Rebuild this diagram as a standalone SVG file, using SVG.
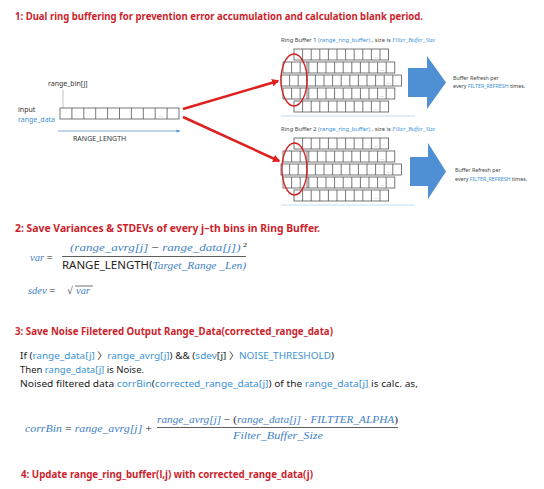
<svg xmlns="http://www.w3.org/2000/svg" xmlns:xlink="http://www.w3.org/1999/xlink" width="544" height="489" viewBox="0 0 544 489">
<style>
.title{font-family:"Noto Sans","Liberation Sans",sans-serif;font-weight:bold;font-size:11px;fill:#cc1f2d}
.body{font-family:"Noto Sans","Liberation Sans","Noto Sans CJK KR",sans-serif;font-size:9.5px;fill:#222}
.small{font-family:"Noto Sans","Liberation Sans",sans-serif;font-size:7px;fill:#333}
.tiny{font-family:"Noto Sans","Liberation Sans",sans-serif;font-size:5.3px;fill:#444}
.b{fill:#3a92d6}
.math{font-family:"Liberation Serif","DejaVu Serif",serif;font-style:italic;font-size:10.5px;fill:#3f82c4}
.up{font-family:"Noto Sans","Liberation Sans",sans-serif;font-style:normal;fill:#222}
.op{font-style:normal;fill:#222}
.cell{fill:#fff;stroke:#555;stroke-width:0.8}
.cl{fill:none;stroke:#555;stroke-width:0.8}
.dots{font-family:"Liberation Sans",sans-serif;font-size:5px;fill:#777}
.sep{stroke:#c4dbf0;stroke-width:1}
.big{fill:#4f90d4}
.red{stroke:#e02020;stroke-width:2.5;fill:none}
</style>
<defs>
<marker id="ra" viewBox="0 0 10 10" refX="8" refY="5" markerWidth="3" markerHeight="3" orient="auto"><path d="M0 0L10 5L0 10z" fill="#e02020"/></marker>
<marker id="ba" viewBox="0 0 10 10" refX="9" refY="5" markerWidth="5" markerHeight="5" orient="auto"><path d="M0 1L10 5L0 9z" fill="#5b9bd5"/></marker>
<g id="rows">
<rect class="cell" x="294" y="49" width="94.6" height="11"/>
<path class="cl" d="M302.6 49v11m8.6-11v11m8.6-11v11m8.6-11v11m8.6-11v11m8.6-11v11m8.6-11v11m8.6-11v11m8.6-11v11m8.6-11v11"/>
<rect class="cell" x="283" y="62" width="111.8" height="11"/>
<path class="cl" d="M291.6 62v11m8.6-11v11m8.6-11v11m8.6-11v11m8.6-11v11m8.6-11v11m8.6-11v11m8.6-11v11m8.6-11v11m8.6-11v11m8.6-11v11m8.6-11v11"/>
<rect class="cell" x="281" y="75" width="120.4" height="11"/>
<path class="cl" d="M289.6 75v11m8.6-11v11m8.6-11v11m8.6-11v11m8.6-11v11m8.6-11v11m8.6-11v11m8.6-11v11m8.6-11v11m8.6-11v11m8.6-11v11m8.6-11v11m8.6-11v11"/>
<rect class="cell" x="283" y="88" width="111.8" height="11"/>
<path class="cl" d="M291.6 88v11m8.6-11v11m8.6-11v11m8.6-11v11m8.6-11v11m8.6-11v11m8.6-11v11m8.6-11v11m8.6-11v11m8.6-11v11m8.6-11v11m8.6-11v11"/>
<rect class="cell" x="294" y="101" width="94.6" height="11"/>
<path class="cl" d="M302.6 101v11m8.6-11v11m8.6-11v11m8.6-11v11m8.6-11v11m8.6-11v11m8.6-11v11m8.6-11v11m8.6-11v11m8.6-11v11"/>
<path class="cl" d="M307 62v37" stroke-width="1.2"/>
<text class="dots" x="375.7" y="58" text-anchor="middle">...</text>
<text class="dots" x="381.9" y="71" text-anchor="middle">...</text>
<text class="dots" x="388.5" y="84" text-anchor="middle">...</text>
<text class="dots" x="381.9" y="97" text-anchor="middle">...</text>
<text class="dots" x="375.7" y="110" text-anchor="middle">...</text>
</g>
</defs>
<rect width="544" height="489" fill="#fff"/>

<text class="title" x="15" y="20" textLength="408" lengthAdjust="spacingAndGlyphs">1: Dual ring buffering for prevention error accumulation and calculation blank period.</text>

<g id="input-array">
<text class="small" x="48" y="86">range_bin[j]</text>
<path d="M63 90V111" stroke="#aaa" stroke-width="0.7"/>
<text class="small" x="18" y="112">input</text>
<text class="small b" x="18" y="122">range_data</text>
<rect class="cell" x="60" y="108" width="119" height="11"/>
<path class="cl" d="M71.9 108v11m11.9-11v11m11.9-11v11m11.9-11v11m11.9-11v11m11.9-11v11m11.9-11v11m11.9-11v11m11.9-11v11"/>
<text class="dots" x="161" y="117" text-anchor="middle">...</text>
<text class="small" x="73" y="141">RANGE_LENGTH</text>
</g>

<g id="ring-buffer-1">
<text class="tiny" x="281" y="42" textLength="154" lengthAdjust="spacingAndGlyphs">Ring Buffer 1 <tspan class="b">(range_ring_buffer)</tspan> , size is <tspan class="b" font-style="italic" font-family="Liberation Serif, serif">Filter_Buffer_Size</tspan></text>
<use xlink:href="#rows"/>
<ellipse cx="294" cy="80" rx="13" ry="26" fill="none" stroke="#d42020" stroke-width="1.3"/>
<line class="sep" x1="281" y1="116" x2="415" y2="116"/>
</g>

<g id="ring-buffer-2">
<text class="tiny" x="281" y="131" textLength="154" lengthAdjust="spacingAndGlyphs">Ring Buffer 2 <tspan class="b">(range_ring_buffer)</tspan> , size is <tspan class="b" font-style="italic" font-family="Liberation Serif, serif">Filter_Buffer_Size</tspan></text>
<use xlink:href="#rows" y="89"/>
<ellipse cx="294.5" cy="169" rx="12.5" ry="26" fill="none" stroke="#d42020" stroke-width="1.3"/>
<line class="sep" x1="281" y1="205" x2="415" y2="205"/>
</g>

<g id="refresh-1">
<polygon class="big" points="408,68 427,68 427,56 446,82.5 427,109 427,97 408,97"/>
<text class="tiny" x="453" y="80">Buffer Refresh per</text>
<text class="tiny" x="453" y="88">every <tspan class="b">FILTER_REFRESH</tspan> times.</text>
</g>

<g id="refresh-2">
<polygon class="big" points="410,157 428,157 428,143 446,171.5 428,199 428,186 410,186"/>
<text class="tiny" x="455" y="172">Buffer Refresh per</text>
<text class="tiny" x="455" y="181">every <tspan class="b">FILTER_REFRESH</tspan> times.</text>
</g>

<g id="connectors">
<line class="red" x1="183" y1="109" x2="278" y2="81" marker-end="url(#ra)"/>
<line class="red" x1="183" y1="117" x2="279" y2="161" marker-end="url(#ra)"/>
<line x1="58" y1="131" x2="180" y2="131" stroke="#5b9bd5" stroke-width="0.8" marker-end="url(#ba)"/>
</g>

<text class="title" x="15" y="232" textLength="305" lengthAdjust="spacingAndGlyphs">2: Save Variances &amp; STDEVs of every j–th bins in Ring Buffer.</text>

<g id="var-formula">
<text class="math" x="30" y="261">var <tspan class="op">=</tspan></text>
<text class="math" x="70" y="251" textLength="177" lengthAdjust="spacingAndGlyphs">(range_avrg[j] <tspan class="op">−</tspan> range_data[j])<tspan class="op" font-size="7" dy="-4"> 2</tspan></text>
<line x1="62" y1="256.5" x2="246" y2="256.5" stroke="#333" stroke-width="0.8"/>
<text class="math" x="62" y="269" textLength="184" lengthAdjust="spacingAndGlyphs"><tspan class="up">RANGE_LENGTH(</tspan>Target_Range _Len)</text>
<text class="math" x="28" y="294">sdev <tspan class="op">=</tspan></text>
<text class="math op" x="67" y="294" font-size="12">√</text>
<line x1="75" y1="286" x2="93" y2="286" stroke="#333" stroke-width="0.7"/>
<text class="math" x="76" y="294">var</text>
</g>

<text class="title" x="15" y="335" textLength="318" lengthAdjust="spacingAndGlyphs">3: Save Noise Filetered Output Range_Data(corrected_range_data)</text>

<g id="noise-text">
<text class="body" x="20" y="359" textLength="314" lengthAdjust="spacingAndGlyphs">If (<tspan class="b">range_data[j]</tspan> 〉<tspan class="b">range_avrg[j]</tspan>) &amp;&amp;  (<tspan class="b">sdev</tspan>[j] 〉<tspan class="b">NOISE_THRESHOLD</tspan>)</text>
<text class="body" x="20" y="373">Then <tspan class="b">range_data[j]</tspan> is Noise.</text>
<text class="body" x="20" y="387" textLength="398" lengthAdjust="spacingAndGlyphs">Noised filtered data <tspan class="b">corrBin</tspan>(<tspan class="b">corrected_range_data[j]</tspan>) of the <tspan class="b">range_data[j]</tspan> is calc. as,</text>
</g>

<g id="corrbin-formula">
<text class="math" x="25" y="432" textLength="127" lengthAdjust="spacingAndGlyphs">corrBin <tspan class="op">=</tspan> range_avrg[j] <tspan class="op">+</tspan></text>
<text class="math" x="157" y="423" textLength="241" lengthAdjust="spacingAndGlyphs">range_avrg[j] <tspan class="op">− (</tspan>range_data[j] <tspan class="op">·</tspan> FILTTER_ALPHA<tspan class="op">)</tspan></text>
<line x1="157" y1="427.5" x2="398" y2="427.5" stroke="#333" stroke-width="0.8"/>
<text class="math" x="233" y="439" textLength="90" lengthAdjust="spacingAndGlyphs">Filter_Buffer_Size</text>
</g>

<text class="title" x="21" y="478" textLength="292" lengthAdjust="spacingAndGlyphs">4: Update range_ring_buffer(l,j) with corrected_range_data(j)</text>
</svg>
